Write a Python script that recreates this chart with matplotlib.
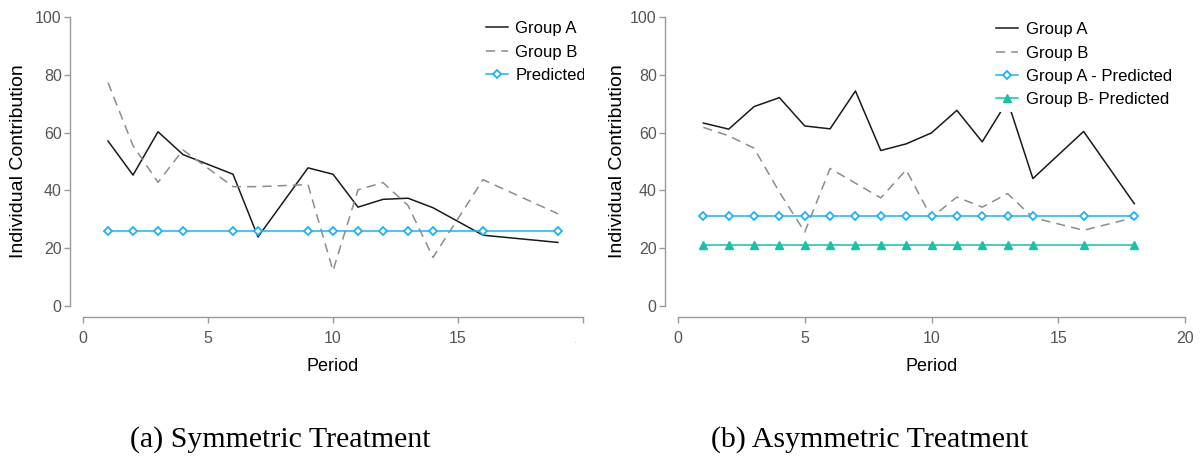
import matplotlib
matplotlib.use("Agg")
import matplotlib.pyplot as plt
from matplotlib.transforms import Bbox, TransformedBbox

plt.rcParams['font.family'] = ['Liberation Sans', 'DejaVu Sans']

# Symmetric treatment
sym_period = [1, 2, 3, 4, 6, 7, 9, 10, 11, 12, 13, 14, 16, 19]
sym_group_a = [57.1, 45.3, 60.3, 52.4, 45.6, 23.9, 47.8, 45.6, 34.2, 36.9, 37.3, 34.0, 24.5, 22.0]
sym_group_b = [77.3, 55.5, 42.8, 54.0, 41.3, 41.3, 42.0, 12.2, 40.2, 42.7, 34.8, 16.8, 43.7, 31.9]
sym_pred = [26] * len(sym_period)

# Asymmetric treatment
asym_period = [1, 2, 3, 4, 5, 6, 7, 8, 9, 10, 11, 12, 13, 14, 16, 18]
asym_group_a = [63.3, 61.2, 69.0, 72.1, 62.3, 61.3, 74.4, 53.8, 56.1, 59.9, 67.7, 56.8, 71.0, 44.1, 60.4, 35.4]
asym_group_b = [61.8, 58.9, 54.6, 39.4, 25.6, 47.6, 42.5, 37.4, 47.1, 30.6, 37.7, 34.2, 38.9, 30.6, 26.2, 30.6]
asym_pred_a = [31] * len(asym_period)
asym_pred_b = [21] * len(asym_period)

x_ticks = [0, 5, 10, 15, 20]
y_ticks = [0, 20, 40, 60, 80, 100]

W, H = 1203, 458
fig = plt.figure(figsize=(W / 100, H / 100), dpi=100)

BLUE = '#1eb2f5'
TEAL = '#17c2a6'
AXC = '#9a9a9a'


def make_axes(x0, x1, y_top, y_bot):
    ax = fig.add_axes([x0 / W, 1 - y_bot / H, (x1 - x0) / W, (y_bot - y_top) / H])
    ax.set_xlim(0, 20)
    ax.set_ylim(0, 100)
    for s in ['top', 'right']:
        ax.spines[s].set_visible(False)
    ax.spines['left'].set_position(('outward', 13 * 72 / 100))
    ax.spines['bottom'].set_position(('outward', 11 * 72 / 100))
    ax.spines['left'].set_bounds(0, 100)
    ax.spines['bottom'].set_bounds(0, 20)
    for s in ['left', 'bottom']:
        ax.spines[s].set_color(AXC)
        ax.spines[s].set_linewidth(1.0)
    ax.set_xticks(x_ticks)
    ax.set_yticks(y_ticks)
    ax.tick_params(direction='out', length=4, width=1.0, color=AXC,
                   labelcolor='#555555', labelsize=11.5)
    ax.tick_params(axis='x', pad=6)
    ax.tick_params(axis='y', pad=2)
    ax.patch.set_visible(False)
    ax.set_xlabel('Period', fontsize=13, labelpad=9)
    ax.set_ylabel('Individual Contribution', fontsize=14)
    return ax


# left panel
ax1 = make_axes(83, 583, 17, 306)
ax1.plot(sym_period, sym_group_a, color='#1a1a1a', lw=1.1, label='Group A', clip_on=False)
ax1.plot(sym_period, sym_group_b, color='#8c8c8c', lw=1.1, ls=(0, (6, 4)), label='Group B', clip_on=False)
ax1.plot(sym_period, sym_pred, color=BLUE, lw=1.1, marker='D', ms=4, mfc='white', mew=1.3,
         label='Predicted', clip_on=False)
ax1.yaxis.set_label_coords(-56 / 500, 0.5)

leg1 = ax1.legend(loc='upper left', bbox_to_anchor=(478 / W, 1 - 13 / H),
                  bbox_transform=fig.transFigure, frameon=False, fontsize=12,
                  handlelength=1.3, handletextpad=0.45, labelspacing=0.5, borderpad=0)

# right panel
ax2 = make_axes(678, 1185, 17, 306)
ax2.plot(asym_period, asym_group_a, color='#1a1a1a', lw=1.1, label='Group A', clip_on=False)
ax2.plot(asym_period, asym_group_b, color='#8c8c8c', lw=1.1, ls=(0, (6, 4)), label='Group B', clip_on=False)
ax2.plot(asym_period, asym_pred_a, color=BLUE, lw=1.1, marker='D', ms=4, mfc='white', mew=1.3,
         label='Group A - Predicted', clip_on=False)
ax2.plot(asym_period, asym_pred_b, color=TEAL, lw=1.1, marker='^', ms=5.5,
         label='Group B- Predicted', clip_on=False)
ax2.yaxis.set_label_coords(-52 / 507, 0.5)

leg2 = ax2.legend(loc='upper left', bbox_to_anchor=(983 / W, 1 - 9 / H),
                  bbox_transform=fig.transFigure, frameon=True, fontsize=12,
                  handlelength=1.3, handletextpad=0.45, labelspacing=0.5, borderpad=0.3,
                  fancybox=False, framealpha=1, edgecolor='none', facecolor='white')

# the left panel is cut off at its right edge in the reference
clip_box = TransformedBbox(Bbox([[0, 0], [584 / W, 1]]), fig.transFigure)
for t in leg1.get_texts():
    t.set_clip_box(clip_box)
    t.set_clip_on(True)
tick_clip = TransformedBbox(Bbox([[0, 0], [576 / W, 1]]), fig.transFigure)
for t in ax1.get_xticklabels():
    t.set_clip_box(tick_clip)
    t.set_clip_on(True)

fig.text(280 / W, 1 - 440 / H, '(a) Symmetric Treatment', ha='center', va='center',
         fontsize=21.5, family='Liberation Serif')
fig.text(870 / W, 1 - 440 / H, '(b) Asymmetric Treatment', ha='center', va='center',
         fontsize=21.5, family='Liberation Serif')

fig.savefig('out.png', dpi=100)
